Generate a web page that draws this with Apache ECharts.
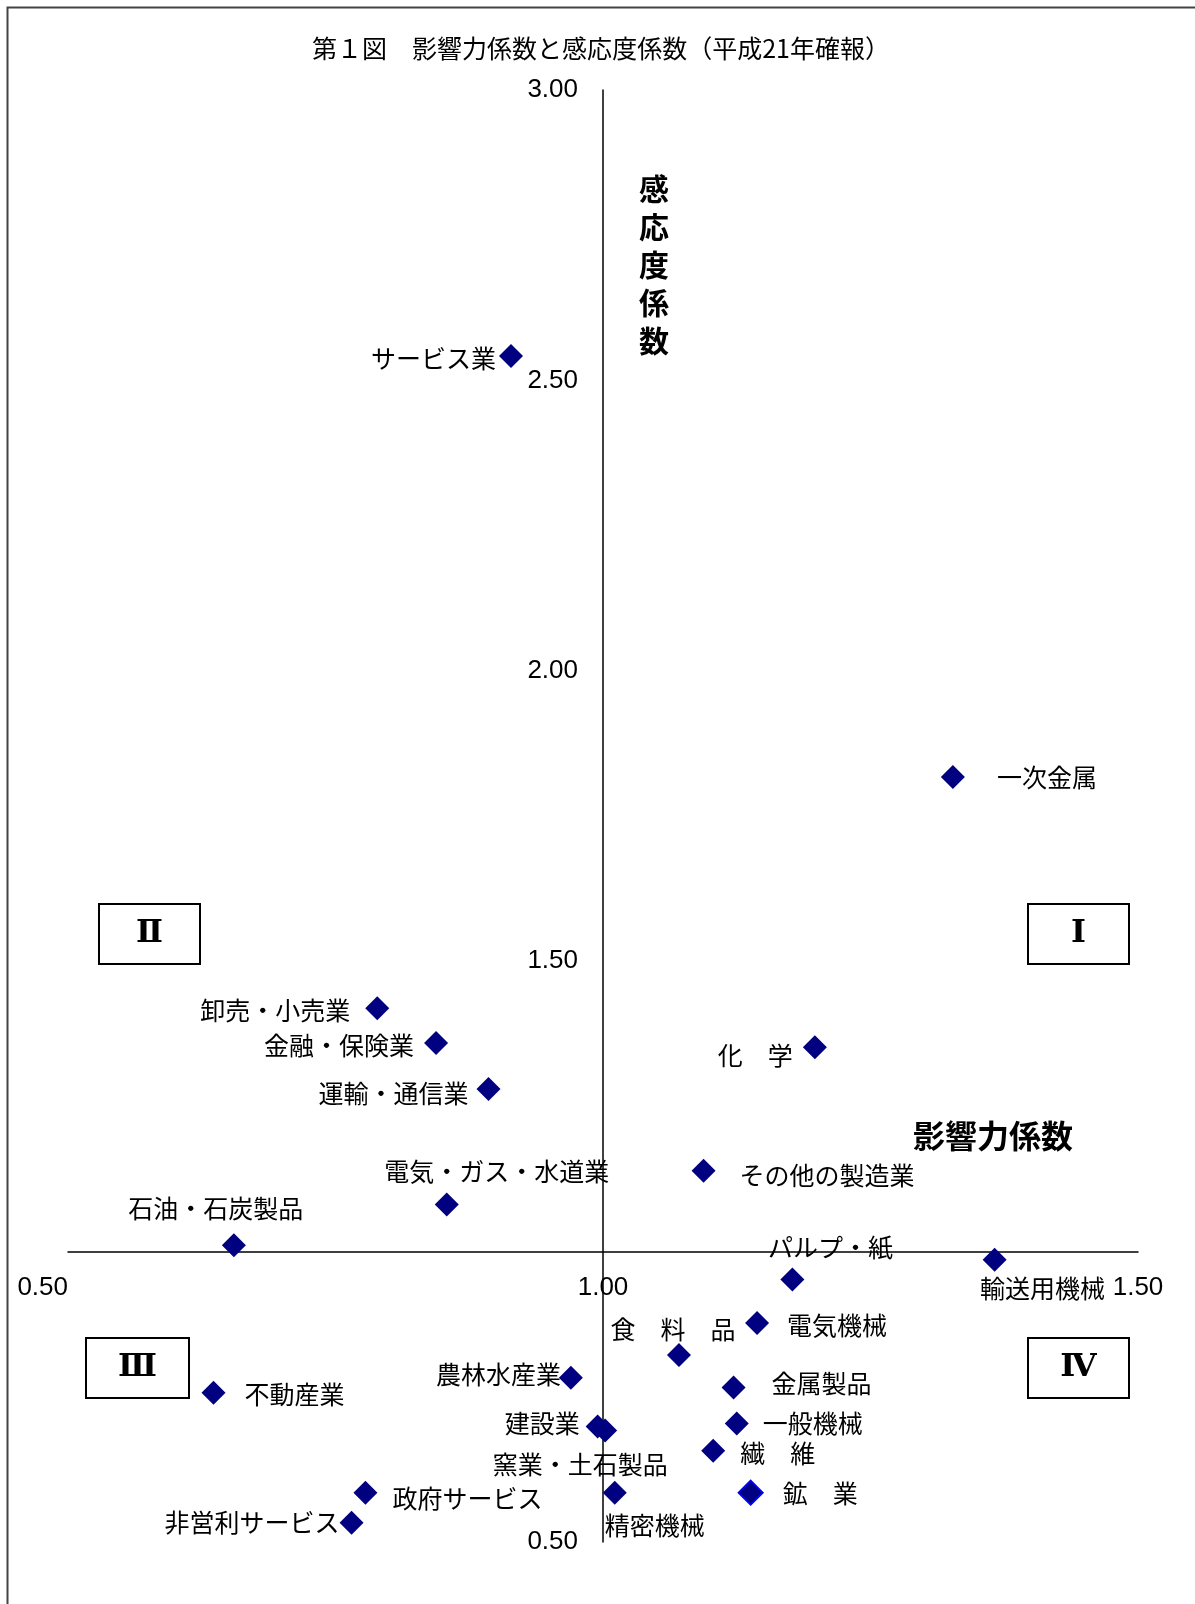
<!DOCTYPE html>
<html>
<head>
<meta charset="utf-8">
<script src="https://cdn.jsdelivr.net/npm/echarts@6/dist/echarts.min.js"></script>
<style>
html,body{margin:0;padding:0;background:#fff;}
#chart{width:1195px;height:1604px;}
</style>
</head>
<body>
<div id="chart"></div>
<script>
// ---- data ----
const titleText = '第１図　影響力係数と感応度係数（平成21年確報）';
const xName = '影響力係数';
const yName = '感応度係数';
const categories = [
  'サービス業','一次金属','卸売・小売業','金融・保険業','運輸・通信業','化　学',
  'その他の製造業','電気・ガス・水道業','石油・石炭製品','輸送用機械','パルプ・紙',
  '電気機械','食　料　品','農林水産業','不動産業','金属製品','建設業','窯業・土石製品',
  '一般機械','繊　維','政府サービス','鉱　業','精密機械','非営利サービス'
];
const influence = [ // 影響力係数 (x)
  0.914, 1.327, 0.789, 0.844, 0.893, 1.198,
  1.094, 0.854, 0.655, 1.366, 1.177,
  1.144, 1.071, 0.970, 0.636, 1.122, 0.995, 1.002,
  1.125, 1.103, 0.778, 1.138, 1.011, 0.765
];
const sensitivity = [ // 感応度係数 (y)
  2.542, 1.817, 1.419, 1.359, 1.280, 1.352,
  1.139, 1.081, 1.011, 0.986, 0.952,
  0.877, 0.822, 0.783, 0.757, 0.766, 0.699, 0.692,
  0.704, 0.657, 0.585, 0.585, 0.585, 0.533
];
const xTicks = {min: 0.5, max: 1.5, interval: 0.5};
const yTicks = {min: 0.5, max: 3.0, interval: 0.5};
const quadrantLabels = ['Ⅰ','Ⅱ','Ⅲ','Ⅳ'];

// ---- label layout (styling only): text placement relative to marker ----
const labelLayout = {
  'サービス業': {side:'left', distance:3, dy:2},
  '一次金属': {side:'right', distance:32, dy:0},
  '卸売・小売業': {side:'left', distance:15, dy:2},
  '金融・保険業': {side:'left', distance:10, dy:2},
  '運輸・通信業': {side:'left', distance:8, dy:5},
  '化　学': {side:'left', distance:10, dy:8},
  'その他の製造業': {side:'right', distance:24, dy:5},
  '電気・ガス・水道業': {side:'center', dx:50, dy:-33},
  '石油・石炭製品': {side:'center', dx:-18, dy:-37},
  '輸送用機械': {side:'center', dx:48, dy:29},
  'パルプ・紙': {side:'center', dx:38, dy:-32},
  '電気機械': {side:'right', distance:18, dy:2},
  '食　料　品': {side:'center', dx:-6, dy:-25},
  '農林水産業': {side:'left', distance:-2, dy:-3},
  '不動産業': {side:'right', distance:19, dy:2},
  '金属製品': {side:'right', distance:26, dy:-4},
  '建設業': {side:'left', distance:6, dy:-3},
  '窯業・土石製品': {side:'center', dx:-25, dy:34},
  '一般機械': {side:'right', distance:14, dy:0},
  '繊　維': {side:'right', distance:15, dy:3},
  '政府サービス': {side:'right', distance:15, dy:6},
  '鉱　業': {side:'right', distance:21, dy:2},
  '精密機械': {side:'center', dx:40, dy:33},
  '非営利サービス': {side:'left', distance:0, dy:0}
};
const highlighted = {'鉱　業': {borderColor:'#0000FF', borderWidth:2}};

const CJK = '"Noto Sans CJK JP", "Noto Sans", sans-serif';
const NUM = '"Liberation Sans", Arial, sans-serif';
const SYM = 24, H2 = SYM / 2;

function labelFor(name) {
  const l = labelLayout[name] || {side:'right', distance:5, dy:0};
  if (l.side === 'left') {
    return {position: [-l.distance, H2 + l.dy], align: 'right', verticalAlign: 'middle'};
  }
  if (l.side === 'right') {
    return {position: [SYM + l.distance, H2 + l.dy], align: 'left', verticalAlign: 'middle'};
  }
  return {position: [H2 + l.dx, H2 + l.dy], align: 'center', verticalAlign: 'middle'};
}

const seriesData = categories.map((name, i) => {
  const item = {
    name: name,
    value: [influence[i], sensitivity[i]],
    label: labelFor(name)
  };
  if (highlighted[name]) item.itemStyle = highlighted[name];
  return item;
});

const chart = echarts.init(document.getElementById('chart'), null, {renderer:'canvas'});

const gridLeft = 68, gridRight = 57, gridTop = 90, gridBottom = 62;
const W = 1195, H = 1604;
const plotW = W - gridLeft - gridRight, plotH = H - gridTop - gridBottom;
const yAxisOffset = -plotW * (1.0 - xTicks.min) / (xTicks.max - xTicks.min);
const xAxisOffset = -plotH * (1.0 - yTicks.min) / (yTicks.max - yTicks.min);

function box(x, y, w, h, txt) {
  return {
    type: 'group', left: x, top: y,
    children: [
      {type:'rect', shape:{x:0, y:0, width:w, height:h}, style:{fill:'#fff', stroke:'#000', lineWidth:2}},
      {type:'text', style:{text:txt, x:w/2, y:h/2, align:'center', verticalAlign:'middle',
        font:'bold 32px "DejaVu Serif", "Liberation Serif", serif', fill:'#000'}}
    ]
  };
}

chart.setOption({
  animation: false,
  backgroundColor: '#fff',
  title: {
    text: titleText, left: 596, top: 31, textAlign: 'center',
    textStyle: {fontFamily: CJK, fontSize: 25, fontWeight: 'normal', color: '#000'}
  },
  grid: {left: gridLeft, right: gridRight, top: gridTop, bottom: gridBottom, containLabel: false},
  xAxis: {
    type: 'value', min: xTicks.min, max: xTicks.max, interval: xTicks.interval,
    position: 'bottom', offset: xAxisOffset,
    axisLine: {onZero: false, lineStyle: {color: '#000', width: 1.5}},
    axisTick: {show: false},
    splitLine: {show: false},
    axisLabel: {
      margin: 23, color: '#000', fontFamily: NUM, fontSize: 26,
      alignMinLabel: 'right',
      formatter: v => v.toFixed(2)
    }
  },
  yAxis: {
    type: 'value', min: yTicks.min, max: yTicks.max, interval: yTicks.interval,
    position: 'left', offset: yAxisOffset,
    axisLine: {onZero: false, lineStyle: {color: '#000', width: 1.5}},
    axisTick: {show: false},
    splitLine: {show: false},
    axisLabel: {
      margin: 25, color: '#000', fontFamily: NUM, fontSize: 26,
      formatter: v => (Math.abs(v - 1.0) < 1e-9 ? '' : v.toFixed(2))
    }
  },
  series: [{
    type: 'scatter',
    symbol: 'diamond',
    symbolSize: SYM,
    itemStyle: {color: '#000080', opacity: 1},
    label: {
      show: true,
      formatter: p => p.name,
      color: '#000', fontFamily: CJK, fontSize: 25
    },
    labelLayout: {hideOverlap: false},
    emphasis: {disabled: true},
    data: seriesData
  }],
  graphic: [
    {type:'rect', left: 5, top: 5, shape:{x:0, y:0, width:1189, height:1620},
      style:{fill:'none', stroke:'#444', lineWidth:2}, silent:true},
    box(98, 903, 101, 60, quadrantLabels[1]),
    box(1027, 903, 101, 60, quadrantLabels[0]),
    box(85, 1337, 103, 60, quadrantLabels[2]),
    box(1027, 1337, 101, 60, quadrantLabels[3]),
    {type:'text', left: 639, top: 170,
      style:{text: yName.split('').join('\n'), font:'bold 30px ' + CJK, lineHeight: 38, fill:'#000'}},
    {type:'text', left: 913, top: 1120,
      style:{text: xName, font:'bold 32px ' + CJK, fill:'#000'}}
  ]
});
</script>
</body>
</html>
